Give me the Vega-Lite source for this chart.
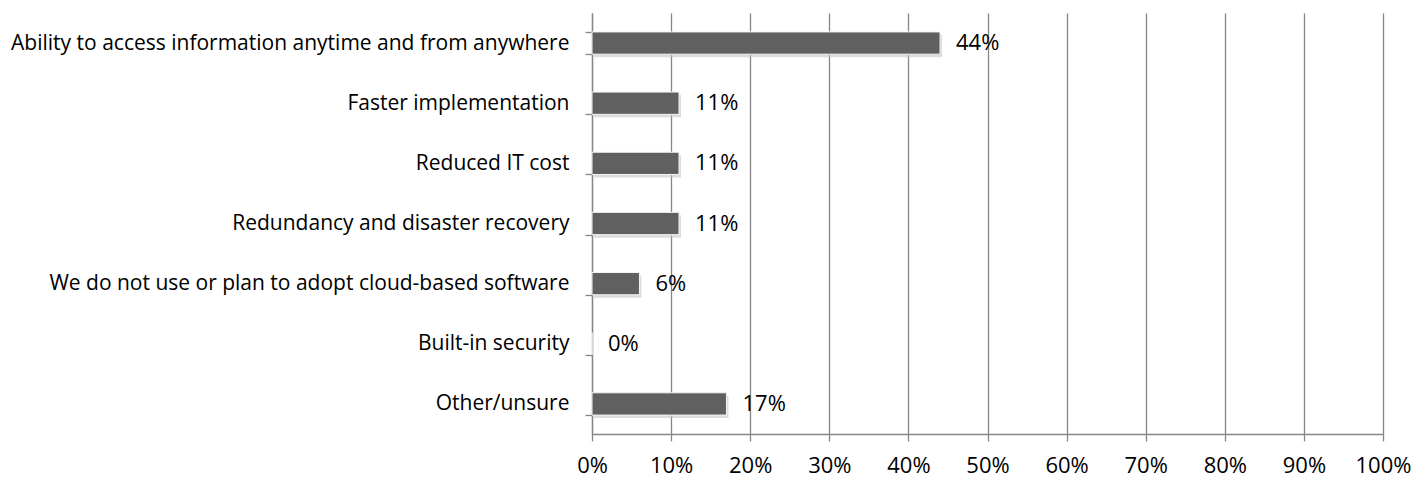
{
  "$schema": "https://vega.github.io/schema/vega-lite/v6.json",
  "width": 791,
  "height": 421,
  "autosize": {"type": "none"},
  "padding": {"left": 592, "top": 13, "right": 33, "bottom": 45},
  "background": "white",
  "config": {
    "view": {"stroke": null},
    "font": "Open Sans",
    "axis": {"labelFont": "Open Sans", "labelColor": "#000000", "domainColor": "#868686", "tickColor": "#868686", "gridColor": "#868686"}
  },
  "data": {
    "values": [
      {"category": "Ability to access information anytime and from anywhere", "value": 0.44, "label": "44%"},
      {"category": "Faster implementation", "value": 0.11, "label": "11%"},
      {"category": "Reduced IT cost", "value": 0.11, "label": "11%"},
      {"category": "Redundancy and disaster recovery", "value": 0.11, "label": "11%"},
      {"category": "We do not use or plan to adopt cloud-based software", "value": 0.06, "label": "6%"},
      {"category": "Built-in security", "value": 0.0, "label": "0%"},
      {"category": "Other/unsure", "value": 0.17, "label": "17%"}
    ]
  },
  "encoding": {
    "y": {
      "field": "category",
      "type": "nominal",
      "sort": null,
      "scale": {"paddingInner": 0.63, "paddingOuter": 0.315},
      "axis": {
        "title": null,
        "labelFontSize": 21,
        "labelPadding": 16,
        "tickSize": 7,
        "tickBand": "extent",
        "domainWidth": 1.3,
        "tickWidth": 1.3,
        "labelLimit": 700
      }
    },
    "x": {
      "field": "value",
      "type": "quantitative",
      "scale": {"domain": [0, 1]},
      "axis": {
        "title": null,
        "format": ".0%",
        "values": [0, 0.1, 0.2, 0.3, 0.4, 0.5, 0.6, 0.7, 0.8, 0.9, 1.0],
        "labelFontSize": 22,
        "labelPadding": 14,
        "labelOverlap": false,
        "labelFlush": false,
        "tickSize": 7,
        "grid": true,
        "gridWidth": 1.3,
        "domainWidth": 1.3,
        "tickWidth": 1.3
      }
    }
  },
  "layer": [
    {
      "mark": {"type": "bar", "color": "#c4c4c4", "opacity": 0.6, "xOffset": 2, "yOffset": 3}
    },
    {
      "mark": {"type": "bar", "color": "#606060", "stroke": "#f4f4f4", "strokeWidth": 1}
    },
    {
      "mark": {"type": "text", "align": "left", "dx": 16, "fontSize": 22, "color": "#000000", "font": "Open Sans"},
      "encoding": {"text": {"field": "label"}}
    }
  ]
}
